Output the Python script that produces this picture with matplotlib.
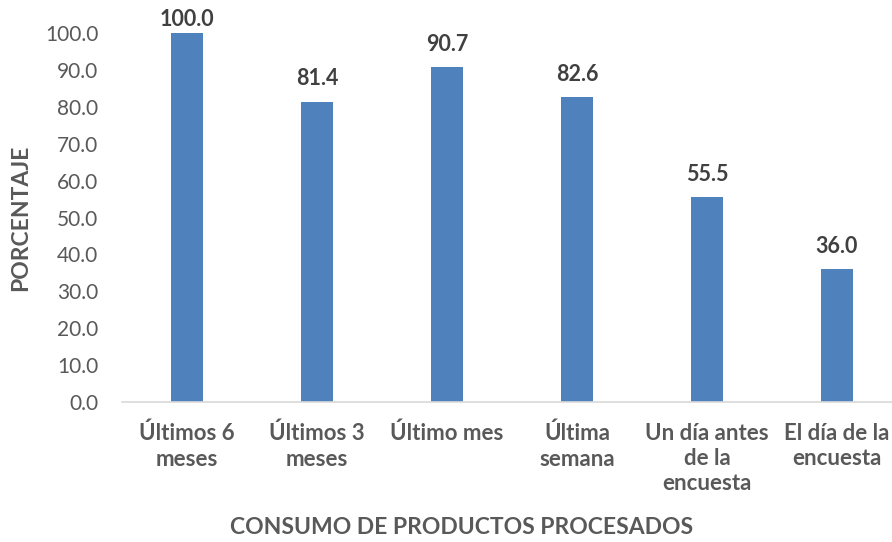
import matplotlib
matplotlib.use("Agg")
import matplotlib.pyplot as plt

categories = ["Últimos 6\nmeses", "Últimos 3\nmeses", "Último mes", "Última\nsemana",
              "Un día antes\nde la\nencuesta", "El día de la\nencuesta"]
values = [100.0, 81.4, 90.7, 82.6, 55.5, 36.0]
yticks = [0, 10, 20, 30, 40, 50, 60, 70, 80, 90, 100]

plt.rcParams['font.family'] = ['Lato', 'DejaVu Sans']

W, H = 892, 542
fig = plt.figure(figsize=(W/100, H/100), dpi=100)
ax = fig.add_axes([122/W, (H-402)/H, 780/W, 369/H])

x = list(range(len(categories)))
ax.bar(x, values, width=0.25, color="#4f81bd", zorder=2)
for xi, v in zip(x, values):
    off = 9 if v < 95 else 2
    ax.annotate(f"{v:.1f}", (xi, v), xytext=(0, off), textcoords="offset points",
                ha="center", va="bottom", fontsize=15.5, fontweight="bold", color="#404040")

ax.set_xlim(-0.5, len(categories) - 0.5)
ax.set_ylim(0, 100)
ax.set_yticks(yticks)
ax.set_yticklabels([f"{t:.1f}" for t in yticks], fontsize=15, color="#595959")
ax.set_xticks(x)
ax.set_xticklabels(categories, fontsize=16, fontweight="bold", color="#595959", linespacing=1.25)
ax.tick_params(axis="both", length=0)
ax.tick_params(axis="y", pad=17)
ax.tick_params(axis="x", pad=15)
for s in ["top", "right", "left"]:
    ax.spines[s].set_visible(False)
ax.spines["bottom"].set_color("#d9d9d9")
ax.spines["bottom"].set_linewidth(1.2)

fig.text(462/W, 1 - 527/H, "CONSUMO DE PRODUCTOS PROCESADOS", ha="center", va="center",
         fontsize=16.5, fontweight="bold", color="#595959")
fig.text(21/W, 1 - 218/H, "PORCENTAJE", ha="center", va="center", rotation=90,
         fontsize=16.5, fontweight="bold", color="#595959")

fig.savefig("out.png", dpi=100)
